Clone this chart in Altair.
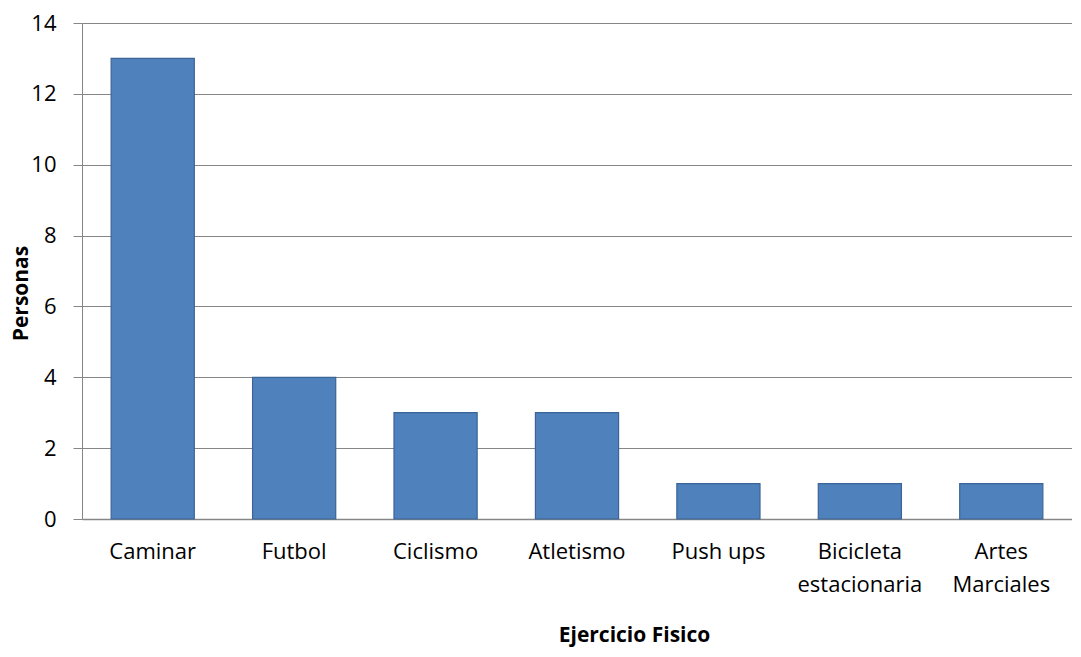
import altair as alt
import pandas as pd

categories = ["Caminar", "Futbol", "Ciclismo", "Atletismo", "Push ups",
              "Bicicleta estacionaria", "Artes Marciales"]
values = [13, 4, 3, 3, 1, 1, 1]
y_ticks = [0, 2, 4, 6, 8, 10, 12, 14]

df = pd.DataFrame({"cat": categories, "val": values})

FONT = "Open Sans"

chart = alt.Chart(df).mark_bar(
    color="#4F81BD", stroke="#3A6596", strokeWidth=1.2
).encode(
    x=alt.X("cat:N", sort=categories,
            scale=alt.Scale(paddingInner=0.412, paddingOuter=0.206),
            axis=alt.Axis(title="Ejercicio Fisico", labelAngle=0,
                          labelExpr="datum.label == 'Bicicleta estacionaria' || datum.label == 'Artes Marciales' ? split(datum.label, ' ') : datum.label",
                          labelLineHeight=33, labelBaseline="top",
                          labelPadding=22, ticks=False,
                          labelFontSize=22, labelColor="#000000", labelFont=FONT,
                          titleFontSize=21, titleFont=FONT, titleFontWeight="bold",
                          titleColor="#000000", titleBaseline="middle",
                          titleX=552, titleY=116, titleAlign="center",
                          domainColor="#868686", domainWidth=1.5)),
    y=alt.Y("val:Q", scale=alt.Scale(domain=[0, 14], nice=False),
            axis=alt.Axis(title="Personas", values=y_ticks, tickSize=9,
                          tickColor="#868686", labelPadding=17,
                          labelFontSize=22, labelColor="#000000", labelFont=FONT,
                          titleFontSize=21, titleFont=FONT, titleFontWeight="bold",
                          titleColor="#000000", titleX=-61, titleY=270,
                          titleAngle=270, titleBaseline="middle", titleAlign="center",
                          grid=True, gridColor="#868686", gridWidth=1,
                          domainColor="#868686", domainWidth=1)),
).properties(
    width=990, height=496,
    autosize=alt.AutoSizeParams(type="none"),
    padding={"left": 74, "top": 15, "right": 0, "bottom": 130},
).configure_view(stroke=None)

chart.save("out.html", embed_options={"renderer": "svg", "actions": False})
